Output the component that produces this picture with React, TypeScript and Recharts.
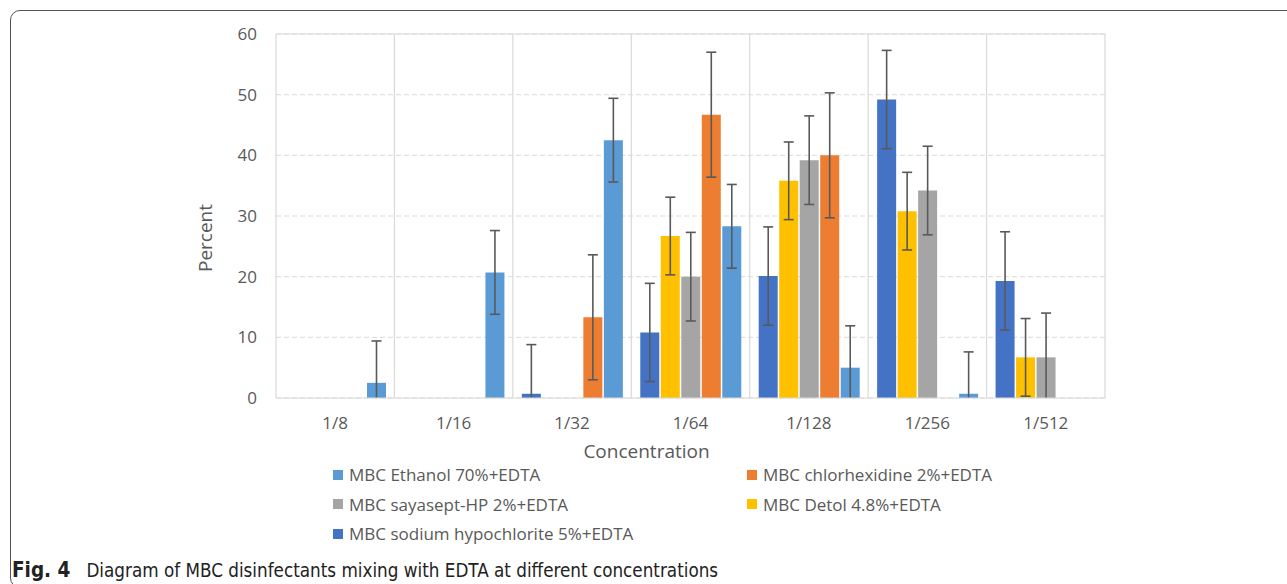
import React from 'react';
import { BarChart, Bar, XAxis, YAxis, CartesianGrid, ErrorBar, ReferenceLine, Legend } from 'recharts';

const categories = ['1/8', '1/16', '1/32', '1/64', '1/128', '1/256', '1/512'];

const sodium = [0, 0, 0.7, 10.8, 20.1, 49.2, 19.3];
const sodiumErr = [0, 0, 8.1, 8.1, 8.1, 8.1, 8.1];
const detol = [0, 0, 0, 26.7, 35.8, 30.8, 6.7];
const detolErr = [0, 0, 0, 6.4, 6.4, 6.4, 6.4];
const sayasept = [0, 0, 0, 20.0, 39.2, 34.2, 6.7];
const sayaseptErr = [0, 0, 0, 7.3, 7.3, 7.3, 7.3];
const chlorhexidine = [0, 0, 13.3, 46.7, 40.0, 0, 0];
const chlorhexidineErr = [0, 0, 10.3, 10.3, 10.3, 0, 0];
const ethanol = [2.5, 20.7, 42.5, 28.3, 5.0, 0.7, 0];
const ethanolErr = [6.9, 6.9, 6.9, 6.9, 6.9, 6.9, 0];

const yTicks = [0, 10, 20, 30, 40, 50, 60];

const series = [
  { key: 'sodium', name: 'MBC sodium hypochlorite 5%+EDTA', color: '#4472C4' },
  { key: 'detol', name: 'MBC Detol 4.8%+EDTA', color: '#FFC000' },
  { key: 'sayasept', name: 'MBC sayasept-HP 2%+EDTA', color: '#A5A5A5' },
  { key: 'chlorhexidine', name: 'MBC chlorhexidine 2%+EDTA', color: '#ED7D31' },
  { key: 'ethanol', name: 'MBC Ethanol 70%+EDTA', color: '#5B9BD5' },
];

const legendOrder = [
  ['ethanol', 'chlorhexidine'],
  ['sayasept', 'detol'],
  ['sodium'],
];

const data = categories.map((c, i) => ({
  cat: c,
  sodium: sodium[i],
  sodiumErr: sodiumErr[i] || null,
  detol: detol[i],
  detolErr: detolErr[i] || null,
  sayasept: sayasept[i],
  sayaseptErr: sayaseptErr[i] || null,
  chlorhexidine: chlorhexidine[i],
  chlorhexidineErr: chlorhexidineErr[i] || null,
  ethanol: ethanol[i],
  ethanolErr: ethanolErr[i] || null,
}));

const FONT = '"Open Sans", sans-serif';
const TEXT = '#595959';

const CHART_W = 1287;
const CHART_H = 584;
const MARGIN = { top: 34, right: 182, left: 0, bottom: 126 };
const XAXIS_H = 60;
const PLOT_BOTTOM = CHART_H - MARGIN.bottom - XAXIS_H;

const LegendContent = (props: any) => {
  const payload = props.payload || [];
  const find = (k: string) => payload.find((p: any) => p.dataKey === k);
  return (
    <div style={{ fontFamily: FONT, fontSize: 17, color: TEXT }}>
      {legendOrder.map((row, ri) => (
        <div key={ri} style={{ display: 'flex', height: 29.5, alignItems: 'center' }}>
          {row.map((k) => {
            const p = find(k);
            if (!p) return null;
            return (
              <div key={k} style={{ width: 414, display: 'flex', alignItems: 'center', whiteSpace: 'nowrap' }}>
                <span style={{ display: 'inline-block', width: 10, height: 10, background: p.color, marginRight: 6 }} />
                <span>{p.value}</span>
              </div>
            );
          })}
        </div>
      ))}
    </div>
  );
};

const boundaryGenerator = (props: any) => {
  const o = props.offset;
  return categories.concat(['end']).map((_, i) => o.left + (i * o.width) / categories.length);
};

export default function App() {
  return (
    <div style={{ position: 'absolute', left: 0, top: 0, width: CHART_W, height: CHART_H, overflow: 'hidden', background: '#fff' }}>
      <style>{`.recharts-errorBars { clip-path: url(#plotClipArea); }`}</style>
      <svg width={0} height={0} style={{ position: 'absolute' }}>
        <defs>
          <clipPath id="plotClipArea" clipPathUnits="userSpaceOnUse">
            <rect x={0} y={0} width={CHART_W} height={PLOT_BOTTOM} />
          </clipPath>
        </defs>
      </svg>
      <div
        style={{
          position: 'absolute',
          left: 10,
          top: 10,
          width: 1320,
          height: 578,
          border: '1.5px solid #555',
          borderRadius: 10,
          boxSizing: 'border-box',
        }}
      />
      <div style={{ position: 'absolute', left: 0, top: 0 }}>
        <BarChart
          width={CHART_W}
          height={CHART_H}
          data={data}
          margin={MARGIN}
          barCategoryGap={9}
          barGap={1.5}
        >
          <CartesianGrid vertical={false} stroke="#d9d9d9" strokeDasharray="5 3" />
          <CartesianGrid horizontal={false} stroke="#d9d9d9" strokeWidth={1.2} verticalCoordinatesGenerator={boundaryGenerator} />
          <XAxis
            dataKey="cat"
            height={XAXIS_H}
            tickLine={false}
            axisLine={{ stroke: '#d9d9d9', strokeWidth: 1.2 }}
            tick={{ fill: TEXT, fontSize: 17, fontFamily: FONT }}
            tickMargin={13}
            label={{ value: 'Concentration', position: 'insideTop', offset: 47, dx: -44, fill: TEXT, fontSize: 19, fontFamily: FONT }}
          />
          <YAxis
            width={276}
            domain={[0, 60]}
            ticks={yTicks}
            allowDataOverflow
            tickLine={false}
            axisLine={false}
            tick={{ fill: TEXT, fontSize: 17, fontFamily: FONT }}
            tickMargin={13}
            label={{ value: 'Percent', angle: -90, position: 'center', dx: 67, dy: 22, fill: TEXT, fontSize: 19, fontFamily: FONT }}
          />
          <ReferenceLine y={60} stroke="#d9d9d9" strokeWidth={1.2} />
          {series.map((s) => (
            <Bar key={s.key} dataKey={s.key} name={s.name} fill={s.color} isAnimationActive={false}>
              <ErrorBar dataKey={s.key + 'Err'} width={5} stroke="#595959" strokeWidth={1.6} direction="y" />
            </Bar>
          ))}
          <Legend
            layout="horizontal"
            verticalAlign="middle"
            align="center"
            wrapperStyle={{ top: 460, left: 333, width: 840 }}
            content={<LegendContent />}
          />
        </BarChart>
      </div>
      <div
        style={{
          position: 'absolute',
          left: 12,
          top: 558,
          fontFamily: '"DejaVu Sans Condensed", "DejaVu Sans", sans-serif',
          fontStretch: 'condensed',
          fontSize: 18.7,
          color: '#222',
          whiteSpace: 'nowrap',
          display: 'flex',
          alignItems: 'baseline',
        }}
      >
        <b style={{ fontSize: 20.5, marginRight: 16 }}>Fig. 4</b>
        <span>Diagram of MBC disinfectants mixing with EDTA at different concentrations</span>
      </div>
    </div>
  );
}
